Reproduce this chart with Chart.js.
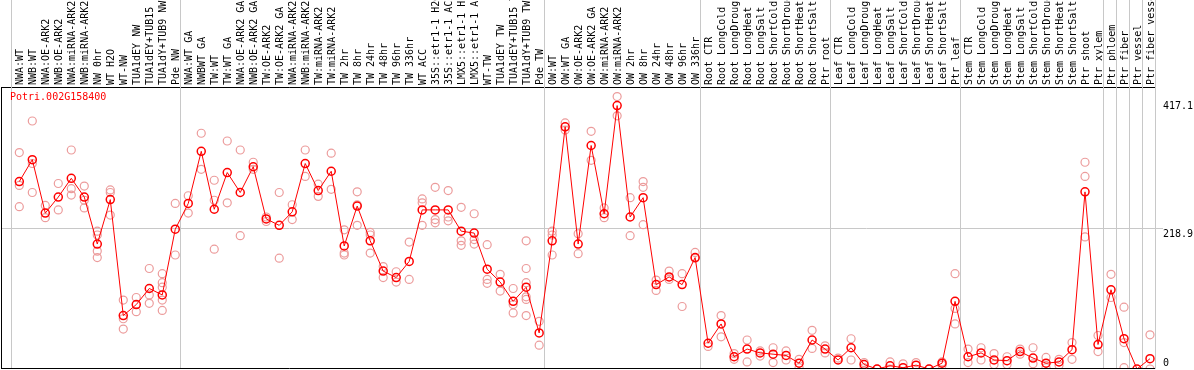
<!DOCTYPE html>
<html>
<head>
<meta charset="utf-8">
<script src="https://cdn.jsdelivr.net/npm/chart.js@4/dist/chart.umd.min.js"></script>
<style>
  html, body { margin: 0; padding: 0; background: #fff; }
  canvas { display: block; }
</style>
</head>
<body>
<canvas id="chart" width="1194" height="370"></canvas>
<script>
// sample names, left to right
const labels = [
    'NWA:WT', 'NWB:WT', 'NWA:OE-ARK2', 'NWB:OE-ARK2', 'NWA:miRNA-ARK2', 'NWB:miRNA-ARK2',
    'NW 0hr', 'WT H2O', 'WT-NW', 'TUA1dEY NW', 'TUA1dEY+TUB15 NW', 'TUA1dY+TUB9 NW', 'Pde NW',
    'NWA:WT GA', 'NWBWT GA', 'TW:WT', 'TW:WT GA', 'NWA:OE-ARK2 GA', 'NWB:OE-ARK2 GA',
    'TW:OE-ARK2', 'TW:OE-ARK2 GA', 'NWA:miRNA-ARK2 GA', 'NWB:miRNA-ARK2 GA', 'TW:miRNA-ARK2',
    'TW:miRNA-ARK2', 'TW 2hr', 'TW 8hr', 'TW 24hr', 'TW 48hr', 'TW 96hr', 'TW 336hr', 'WT ACC',
    '35S::etr1-1 H2O', '35S::etr1-1 ACC', 'LMX5::etr1-1 H2O', 'LMX5::etr1-1 ACC', 'WT-TW',
    'TUA1dEY TW', 'TUA1dEY+TUB15 TW', 'TUA1dY+TUB9 TW', 'Pde TW',
    'OW:WT', 'OW:WT GA', 'OW:OE-ARK2', 'OW:OE-ARK2 GA', 'OW:miRNA-ARK2', 'OW:miRNA-ARK2',
    'OW 2hr', 'OW 8hr', 'OW 24hr', 'OW 48hr', 'OW 96hr', 'OW 336hr',
    'Root CTR', 'Root LongCold', 'Root LongDrought', 'Root LongHeat', 'Root LongSalt',
    'Root ShortCold', 'Root ShortDrought', 'Root ShortHeat', 'Root ShortSalt', 'Ptr root',
    'Leaf CTR', 'Leaf LongCold', 'Leaf LongDrought', 'Leaf LongHeat', 'Leaf LongSalt',
    'Leaf ShortCold', 'Leaf ShortDrought', 'Leaf ShortHeat', 'Leaf ShortSalt', 'Ptr leaf',
    'Stem CTR', 'Stem LongCold', 'Stem LongDrought', 'Stem LongHeat', 'Stem LongSalt',
    'Stem ShortCold', 'Stem ShortDrought', 'Stem ShortHeat', 'Stem ShortSalt', 'Ptr shoot',
    'Ptr xylem', 'Ptr phloem', 'Ptr fiber', 'Ptr vessel', 'Ptr fiber vessel'
];

// mean expression per sample
const means = [
    291, 325, 242, 267, 296, 267, 194, 263, 83, 100,
    125, 115, 217, 257, 338, 248, 305, 274, 314, 233,
    223, 244, 319, 277, 307, 191, 253, 199, 152, 142,
    167, 247, 247, 247, 214, 211, 155, 135, 105, 127,
    56, 199, 376, 194, 347, 241, 409, 236, 266, 131,
    143, 131, 173, 40, 70, 19, 31, 25, 23, 21,
    9, 45, 31, 14, 33, 7, 0, 5, 2, 6,
    0, 9, 105, 19, 25, 14, 13, 27, 17, 9,
    11, 30, 275, 38, 123, 47, 0, 16
];

// individual replicates per sample
const replicates = [
    [336, 285, 252], [385, 319, 274], [254, 235], [288, 247], [340, 280, 270],
    [284, 262, 250], [214, 208, 183, 173], [278, 274, 239], [107, 78, 62], [111, 89],
    [156, 115, 102], [148, 134, 127, 107, 91], [257, 177], [269, 242], [366, 310],
    [293, 262, 186], [354, 258], [340, 207], [321, 310], [236, 229],
    [274, 172], [255, 232], [340, 299], [287, 268], [335, 279],
    [216, 180, 177], [275, 255, 223], [212, 208, 180], [159, 142], [151, 135],
    [197, 139], [264, 258, 223], [282, 232, 227], [277, 236, 230], [251, 199, 192],
    [241, 201, 194], [193, 139, 133], [147, 121], [125, 100, 87], [199, 156, 134, 112, 108, 83],
    [74, 37], [214, 208, 177], [382, 371], [210, 179], [369, 324],
    [250, 235], [423, 393], [266, 207], [291, 282, 224], [138, 122],
    [152, 139], [148, 97], [181, 172], [35], [83, 50],
    [24, 15], [45, 11], [28, 20], [33, 10], [28, 14],
    [15, 2], [60, 32], [36, 25], [17], [47, 14],
    [10, 2], [0], [11, 0], [8], [10],
    [0], [11, 6], [148, 94, 70], [31, 10], [33, 14],
    [24, 7], [19, 7], [31, 23], [33, 8], [18, 2],
    [15, 6], [41, 15], [321, 299, 205], [52, 27], [147, 111],
    [96, 41, 2], [], [53, 0]
];

// grey separators are drawn after these sample indexes
const groupEnds = [-1, 12, 40, 52, 62, 72, 83, 84, 85, 86, 87];

const yTicks = [0, 218.9, 417.1];
const geneName = 'Potri.002G158400';

const monoFont = { family: 'DejaVu Sans Mono', size: 10 };

const meanPoints = means.map((v, i) => ({ x: i, y: v }));
const repPoints = [];
replicates.forEach((reps, i) => {
    reps.forEach(v => repPoints.push({ x: i, y: v }));
});

// separators, frame and gene name
const framePlugin = {
    id: 'frame',
    beforeDatasetsDraw(chart) {
        const { ctx, chartArea, scales } = chart;
        ctx.save();
        ctx.strokeStyle = '#c8c8c8';
        ctx.lineWidth = 1;
        groupEnds.forEach(i => {
            const px = Math.round(scales.x.getPixelForValue(i + 0.36)) + 0.5;
            ctx.beginPath();
            ctx.moveTo(px, 0);
            ctx.lineTo(px, chartArea.bottom);
            ctx.stroke();
        });
        ctx.restore();
    },
    afterDraw(chart) {
        const { ctx, chartArea } = chart;
        ctx.save();
        ctx.strokeStyle = '#000';
        ctx.lineWidth = 1;
        ctx.beginPath();
        ctx.moveTo(1.5, chartArea.top);
        ctx.lineTo(1.5, chartArea.bottom);
        ctx.moveTo(chartArea.left, chartArea.bottom - 0.5);
        ctx.lineTo(chartArea.right, chartArea.bottom - 0.5);
        ctx.stroke();

        ctx.fillStyle = '#ff0000';
        ctx.font = '10px "DejaVu Sans Mono"';
        ctx.textBaseline = 'middle';
        ctx.textAlign = 'left';
        ctx.fillText(geneName, 10, chartArea.top + 10);
        ctx.restore();
    }
};

const ctx = document.getElementById('chart').getContext('2d');
new Chart(ctx, {
    type: 'line',
    data: {
        datasets: [{
            label: 'mean',
            data: meanPoints,
            borderColor: '#ff0000',
            borderWidth: 1,
            pointRadius: 4,
            pointBorderWidth: 1.5,
            pointBorderColor: '#ff0000',
            pointBackgroundColor: 'rgba(0,0,0,0)',
            tension: 0,
            order: 0
        }, {
            type: 'scatter',
            label: 'replicates',
            data: repPoints,
            showLine: false,
            pointRadius: 4,
            pointBorderWidth: 1.2,
            pointBorderColor: '#ec9c9c',
            pointBackgroundColor: 'rgba(0,0,0,0)',
            order: 1
        }]
    },
    options: {
        responsive: false,
        animation: false,
        devicePixelRatio: 1,
        layout: { autoPadding: false, padding: { left: 1, bottom: 1, top: 0, right: 0 } },
        plugins: {
            legend: { display: false },
            tooltip: { enabled: false }
        },
        scales: {
            x: {
                type: 'linear',
                position: 'top',
                min: -1.408,
                max: 87.385,
                afterBuildTicks: (scale) => {
                    scale.ticks = labels.map((_, i) => ({ value: i }));
                },
                afterFit: (scale) => {
                    scale.height = 87;
                    scale.paddingLeft = 0;
                    scale.paddingRight = 0;
                },
                ticks: {
                    minRotation: 90,
                    maxRotation: 90,
                    autoSkip: false,
                    padding: 2,
                    labelOffset: 13,
                    color: '#000',
                    font: monoFont,
                    callback: (value, index) => labels[index]
                },
                grid: { display: false, drawTicks: false },
                border: { display: true, color: '#000', width: 1 }
            },
            y: {
                type: 'linear',
                position: 'right',
                min: 0,
                max: 437.8,
                afterBuildTicks: (scale) => {
                    scale.ticks = yTicks.map(v => ({ value: v }));
                },
                afterFit: (scale) => {
                    scale.width = 39;
                    scale.paddingTop = 0;
                    scale.paddingBottom = 0;
                },
                ticks: {
                    padding: 0,
                    color: '#000',
                    font: monoFont,
                    callback: (value) => value === 0 ? ['0', ''] : ['', String(value)]
                },
                grid: {
                    color: (c) => c.tick && c.tick.value === 218.9 ? '#c8c8c8' : 'rgba(0,0,0,0)',
                    drawTicks: true,
                    tickLength: 8
                },
                border: { display: false }
            }
        }
    },
    plugins: [framePlugin]
});
</script>
</body>
</html>
